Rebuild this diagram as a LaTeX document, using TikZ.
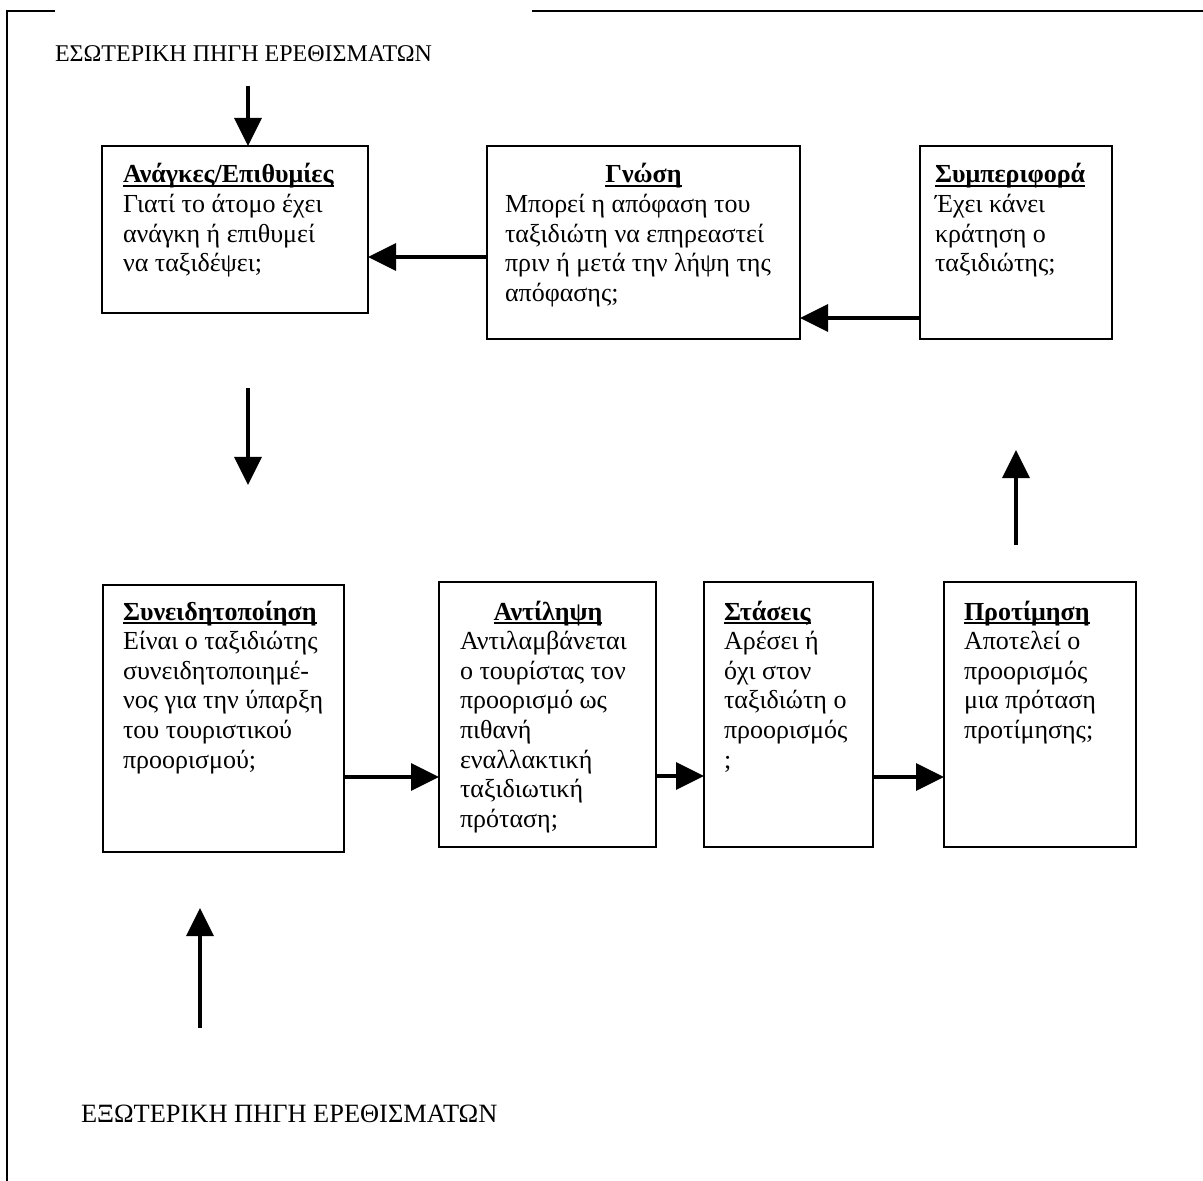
\documentclass[tikz,border=0pt]{standalone}
\usepackage{fontspec}
\setmainfont{Liberation Serif}
\usetikzlibrary{arrows.meta}
\newcommand\hd[1]{\leavevmode\setbox0\hbox{\textbf{#1}}\rlap{\rule[-1.8pt]{\wd0}{0.8pt}}\box0}
\newcommand\tpar[2]{\parbox[t]{#1}{\fontsize{13pt}{14.8pt}\selectfont\raggedright #2}}
\begin{document}
\begin{tikzpicture}[x=0.5pt,y=-0.5pt,
  box/.style={draw, line width=1.3pt, inner sep=0pt, outer sep=0pt, anchor=north west},
  txt/.style={inner sep=0pt, outer sep=0pt, anchor=base west},
  arr/.style={line width=1.6pt, -{Triangle[length=14pt,width=13.5pt]}},
  frame/.style={line width=1pt}]
\useasboundingbox (0,0) rectangle (1203,1181);
% frame
\draw[frame] (55,11) -- (7,11) -- (7,1181);
\draw[line width=1.3pt] (532,11) -- (1203,11);
% boxes
\node[box, minimum width=133pt, minimum height=83.5pt] (anagkes) at (102,146) {};
\node[box, minimum width=156.5pt, minimum height=96.5pt] (gnosi) at (487,146) {};
\node[box, minimum width=96pt, minimum height=96.5pt] (symp) at (920,146) {};
\node[box, minimum width=120.5pt, minimum height=133.5pt] (syn) at (103,585) {};
\node[box, minimum width=108.5pt, minimum height=132.5pt] (ant) at (439,582) {};
\node[box, minimum width=84.5pt, minimum height=132.5pt] (stas) at (704,582) {};
\node[box, minimum width=96pt, minimum height=132.5pt] (prot) at (944,582) {};
% texts
\node[txt] (anagkesT) at (123,183) {\tpar{120pt}{\hd{Ανάγκες/Επιθυμίες}\\Γιατί το άτομο έχει\\ανάγκη ή επιθυμεί\\να ταξιδέψει;}};
\node[txt] (gnosiT) at (505,183) {\tpar{138.5pt}{\makebox[\linewidth]{\hd{Γνώση}}\\Μπορεί η απόφαση του\\ταξιδιώτη να επηρεαστεί\\πριν ή μετά την λήψη της\\απόφασης;}};
\node[txt] (sympT) at (935,183) {\tpar{88pt}{\hd{Συμπεριφορά}\\Έχει κάνει\\κράτηση ο\\ταξιδιώτης;}};
\node[txt] (synT) at (123,620) {\tpar{110pt}{\hd{Συνειδητοποίηση}\\Είναι ο ταξιδιώτης\\συνειδητοποιημέ-\\νος για την ύπαρξη\\του τουριστικού\\προορισμού;}};
\node[txt] (antT) at (460,620) {\tpar{88pt}{\makebox[\linewidth]{\hd{Αντίληψη}}\\Αντιλαμβάνεται\\ο τουρίστας τον\\προορισμό ως\\πιθανή\\εναλλακτική\\ταξιδιωτική\\πρόταση;}};
\node[txt] (stasT) at (724,620) {\tpar{75pt}{\hd{Στάσεις}\\Αρέσει ή\\όχι στον\\ταξιδιώτη ο\\προορισμός\\;}};
\node[txt] (protT) at (964,620) {\tpar{85pt}{\hd{Προτίμηση}\\Αποτελεί ο\\προορισμός\\μια πρόταση\\προτίμησης;}};
% labels
\node[txt] (inlbl) at (55,62) {\fontsize{12pt}{14pt}\selectfont ΕΣΩΤΕΡΙΚΗ ΠΗΓΗ ΕΡΕΘΙΣΜΑΤΩΝ};
\node[txt] (exlbl) at (81,1122) {\fontsize{13.2pt}{15pt}\selectfont ΕΞΩΤΕΡΙΚΗ ΠΗΓΗ ΕΡΕΘΙΣΜΑΤΩΝ};
% arrows
\coordinate (s1) at (248,86);
\draw[arr] (s1) -- (s1 |- anagkes.north);
\draw[arr] (gnosi.west |- 0,257) -- (anagkes.east |- 0,257);
\draw[arr] (symp.west |- 0,318) -- (gnosi.east |- 0,318);
\coordinate (d1) at (248,388);
\coordinate (d2) at (248,485);
\draw[arr] (d1) -- (d2);
\coordinate (u1) at (1016,545);
\coordinate (u2) at (1016,450);
\draw[arr] (u1) -- (u2);
\draw[arr] (syn.east |- 0,777) -- (ant.west |- 0,777);
\draw[arr] (ant.east |- 0,776) -- (stas.west |- 0,776);
\draw[arr] (stas.east |- 0,777) -- (prot.west |- 0,777);
\coordinate (e1) at (200,1028);
\coordinate (e2) at (200,908);
\draw[arr] (e1) -- (e2);
\end{tikzpicture}
\end{document}
